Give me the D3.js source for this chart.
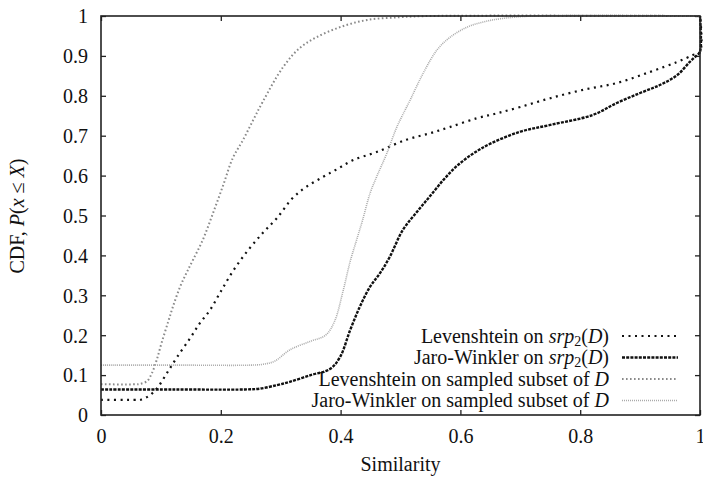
<!DOCTYPE html>
<html><head><meta charset="utf-8">
<script src="https://cdn.jsdelivr.net/npm/d3@7"></script>
<style>body{margin:0;background:#fff}svg{display:block}svg text{font-family:'Liberation Serif','DejaVu Serif',serif !important;fill:#111}</style>
</head><body>
<script>
const xTicks = [0, 0.2, 0.4, 0.6, 0.8, 1];
const yTicks = [0, 0.1, 0.2, 0.3, 0.4, 0.5, 0.6, 0.7, 0.8, 0.9, 1];

const levSrpX = [0, 0.06, 0.068, 0.082, 0.095, 0.11, 0.127, 0.149, 0.165, 0.182, 0.199, 0.22, 0.245, 0.27, 0.294, 0.32, 0.343, 0.371, 0.394, 0.421, 0.46, 0.51, 0.549, 0.583, 0.628, 0.661, 0.7, 0.75, 0.805, 0.861, 0.917, 0.962, 0.988, 1.0, 1.0];
const levSrpY = [0.038, 0.038, 0.039, 0.05, 0.07, 0.105, 0.145, 0.193, 0.23, 0.263, 0.307, 0.36, 0.412, 0.456, 0.494, 0.544, 0.572, 0.597, 0.616, 0.639, 0.659, 0.69, 0.706, 0.722, 0.744, 0.756, 0.772, 0.794, 0.815, 0.832, 0.86, 0.885, 0.902, 0.91, 1.0];

const jwSrpX = [0, 0.12, 0.24, 0.265, 0.294, 0.315, 0.35, 0.382, 0.399, 0.416, 0.432, 0.449, 0.466, 0.482, 0.504, 0.528, 0.549, 0.571, 0.594, 0.621, 0.65, 0.7, 0.75, 0.821, 0.861, 0.9, 0.933, 0.962, 0.983, 0.995, 1.0, 1.0];
const jwSrpY = [0.064, 0.064, 0.064, 0.066, 0.075, 0.083, 0.1, 0.115, 0.145, 0.213, 0.271, 0.321, 0.356, 0.396, 0.464, 0.51, 0.548, 0.588, 0.624, 0.655, 0.68, 0.71, 0.727, 0.752, 0.782, 0.807, 0.827, 0.852, 0.885, 0.902, 0.91, 1.0];

const levSampX = [0, 0.058, 0.065, 0.077, 0.085, 0.093, 0.101, 0.112, 0.12, 0.132, 0.143, 0.154, 0.17, 0.187, 0.204, 0.22, 0.237, 0.254, 0.27, 0.304, 0.332, 0.36, 0.399, 0.444, 0.5, 0.55, 1.0];
const levSampY = [0.077, 0.077, 0.078, 0.085, 0.105, 0.138, 0.18, 0.233, 0.271, 0.321, 0.357, 0.39, 0.439, 0.506, 0.576, 0.644, 0.689, 0.739, 0.785, 0.872, 0.92, 0.947, 0.972, 0.99, 0.997, 1.0, 1.0];

const jwSampX = [0, 0.13, 0.25, 0.27, 0.29, 0.315, 0.35, 0.375, 0.39, 0.404, 0.416, 0.427, 0.437, 0.449, 0.461, 0.477, 0.494, 0.516, 0.538, 0.561, 0.583, 0.611, 0.638, 0.666, 0.72, 1.0];
const jwSampY = [0.125, 0.125, 0.125, 0.127, 0.135, 0.163, 0.185, 0.2, 0.235, 0.31, 0.385, 0.44, 0.49, 0.555, 0.6, 0.655, 0.722, 0.789, 0.857, 0.915, 0.947, 0.972, 0.985, 0.993, 1.0, 1.0];

const seriesNames = ["Levenshtein on srp2(D)", "Jaro-Winkler on srp2(D)", "Levenshtein on sampled subset of D", "Jaro-Winkler on sampled subset of D"];

const FONT = "'Liberation Serif','DejaVu Serif',serif";
const W = 703, H = 479;
const M = {left: 101, right: 700, top: 16, bottom: 415};
const svg = d3.select("body").append("svg").attr("width", W).attr("height", H)
  .attr("font-family", FONT);
const x = d3.scaleLinear().domain([0, 1]).range([M.left, M.right]);
const y = d3.scaleLinear().domain([0, 1]).range([M.bottom, M.top]);

const styles = [
  {stroke: "#111", width: 2.2, dash: "2,4.5"},
  {stroke: "#111", width: 2.4, dash: "3,1.2"},
  {stroke: "#8a8a8a", width: 2, dash: "1.6,2.4"},
  {stroke: "#aaaaaa", width: 1.6, dash: "1,1"}
];
const data = [
  d3.zip(levSrpX, levSrpY),
  d3.zip(jwSrpX, jwSrpY),
  d3.zip(levSampX, levSampY),
  d3.zip(jwSampX, jwSampY)
];

const tickLen = 5;
const axB = svg.append("g").attr("transform", `translate(0,${M.bottom})`)
  .call(d3.axisBottom(x).tickValues(xTicks).tickSize(-tickLen).tickPadding(14).tickFormat(d3.format("")));
const axT = svg.append("g").attr("transform", `translate(0,${M.top})`)
  .call(d3.axisTop(x).tickValues(xTicks).tickSize(-tickLen).tickFormat(""));
const axL = svg.append("g").attr("transform", `translate(${M.left},0)`)
  .call(d3.axisLeft(y).tickValues(yTicks).tickSize(-tickLen).tickPadding(13).tickFormat(d3.format("")));
const axR = svg.append("g").attr("transform", `translate(${M.right},0)`)
  .call(d3.axisRight(y).tickValues(yTicks).tickSize(-tickLen).tickFormat(""));
[axB, axT, axL, axR].forEach(g => {
  g.attr("font-family", FONT).attr("font-size", 20);
  g.select(".domain").remove();
  g.selectAll(".tick line").attr("stroke", "#222").attr("stroke-width", 1.3);
  g.selectAll(".tick text").attr("fill", "#111").attr("font-family", FONT).attr("font-size", 20);
});
axB.selectAll(".tick text").attr("dy", "0.71em");
axL.selectAll(".tick text").attr("dy", "0.34em");

const line = d3.line().x(d => x(d[0])).y(d => y(d[1])).curve(d3.curveCatmullRom.alpha(0.5));
data.forEach((d, i) => {
  svg.append("path").datum(d).attr("d", line).attr("fill", "none")
    .attr("stroke", styles[i].stroke).attr("stroke-width", styles[i].width)
    .attr("stroke-dasharray", styles[i].dash);
});

svg.append("rect").attr("x", M.left).attr("y", M.top)
  .attr("width", M.right - M.left).attr("height", M.bottom - M.top)
  .attr("fill", "none").attr("stroke", "#222").attr("stroke-width", 1.6);

const legY = [336, 357.5, 379, 400.5];
const leg = svg.append("g");
const labelParts = [
  [["Levenshtein on ", "n"], ["srp", "i"], ["2", "sub"], ["(", "n"], ["D", "i"], [")", "n"]],
  [["Jaro-Winkler on ", "n"], ["srp", "i"], ["2", "sub"], ["(", "n"], ["D", "i"], [")", "n"]],
  [["Levenshtein on sampled subset of ", "n"], ["D", "i"]],
  [["Jaro-Winkler on sampled subset of ", "n"], ["D", "i"]]
];
labelParts.forEach((parts, i) => {
  const t = leg.append("text").attr("x", 609).attr("y", legY[i]).attr("dy", "0.33em")
    .attr("text-anchor", "end").attr("font-size", 20);
  parts.forEach(p => {
    const s = t.append("tspan").text(p[0]);
    if (p[1] === "i") s.attr("font-style", "italic");
    if (p[1] === "sub") s.attr("font-size", 14).attr("dy", "3");
    else if (i < 2 && p[0] === "(") s.attr("dy", "-3");
  });
  leg.append("line").attr("x1", 622).attr("x2", 678).attr("y1", legY[i]).attr("y2", legY[i])
    .attr("stroke", styles[i].stroke).attr("stroke-width", styles[i].width)
    .attr("stroke-dasharray", styles[i].dash);
});

svg.append("text").attr("x", (M.left + M.right) / 2).attr("y", 471)
  .attr("text-anchor", "middle").attr("font-size", 20).text("Similarity");
const yt = svg.append("text").attr("transform", "translate(24,216) rotate(-90)")
  .attr("text-anchor", "middle").attr("font-size", 20);
yt.append("tspan").text("CDF, ");
yt.append("tspan").attr("font-style", "italic").text("P");
yt.append("tspan").text("(");
yt.append("tspan").attr("font-style", "italic").text("x");
yt.append("tspan").text(" ≤ ");
yt.append("tspan").attr("font-style", "italic").text("X");
yt.append("tspan").text(")");
</script>
</body></html>
